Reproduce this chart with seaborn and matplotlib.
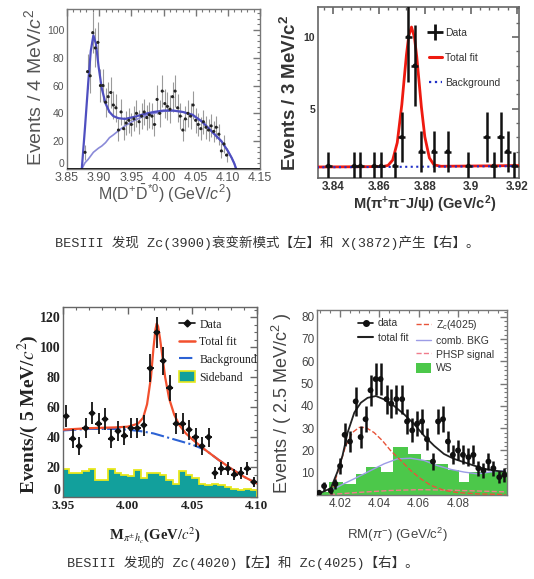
import numpy as np
import matplotlib
matplotlib.use("Agg")
import matplotlib.pyplot as plt
import seaborn as sns
from matplotlib.lines import Line2D
from matplotlib.patches import Patch
from matplotlib.ticker import MultipleLocator, FormatStrFormatter

# ---------------- data ----------------
# Panel 1: M(D+ D*0) Zc(3900)
p1_x = [3.878, 3.882, 3.886, 3.890, 3.894, 3.898, 3.902, 3.906, 3.910, 3.914,
        3.918, 3.922, 3.926, 3.930, 3.934, 3.938, 3.942, 3.946, 3.950, 3.954,
        3.958, 3.962, 3.966, 3.970, 3.974, 3.978, 3.982, 3.986, 3.990, 3.994,
        3.998, 4.002, 4.006, 4.010, 4.014, 4.018, 4.022, 4.026, 4.030, 4.034,
        4.038, 4.042, 4.046, 4.050, 4.054, 4.058, 4.062, 4.066, 4.070, 4.074,
        4.078, 4.082, 4.086, 4.090, 4.094, 4.098]
p1_y = [12, 70, 67, 98, 87, 91, 60, 60, 48, 52,
        55, 46, 44, 28, 41, 29, 33, 35, 32, 36,
        40, 34, 38, 41, 37, 39, 38, 32, 50, 40,
        56, 47, 45, 43, 52, 56, 44, 38, 28, 36,
        40, 38, 46, 35, 32, 29, 34, 30, 28, 31,
        27, 30, 25, 13, 18, 10]
p1_fit_x = [3.873, 3.878, 3.883, 3.887, 3.891, 3.895, 3.899, 3.904, 3.910, 3.916,
            3.922, 3.930, 3.940, 3.955, 3.970, 3.985, 4.000, 4.015, 4.030, 4.045,
            4.060, 4.075, 4.090, 4.100, 4.106, 4.110, 4.113]
p1_fit_y = [0, 30, 62, 85, 96, 90, 74, 58, 47, 41,
            38, 36.5, 36, 37.5, 39.5, 41, 42, 42, 41, 39,
            34, 27, 20, 13, 8, 4, 0]
p1_bkg_y = [0, 4.5, 7, 9.5, 12, 13.5, 15, 16.5, 19, 22.5,
            24.5, 27.5, 31, 35, 38, 40, 41.5, 42, 41, 39,
            34, 27, 20, 13, 8, 4, 0]

# Panel 2: M(pi+ pi- J/psi) X(3872)
p2_x = [3.8380, 3.8493, 3.8520, 3.8580, 3.8610, 3.8670, 3.8700, 3.8728, 3.8757,
        3.8785, 3.8840, 3.8900, 3.8990, 3.9070, 3.9100, 3.9130, 3.9160, 3.9190]
p2_y = [1, 1, 1, 1, 1, 1, 3, 10, 8, 2, 2, 2, 1, 3, 1, 3, 2, 1]
p2_fit_x = [3.833, 3.855, 3.862, 3.864, 3.866, 3.868, 3.870, 3.871, 3.872, 3.873,
            3.8742, 3.8755, 3.8765, 3.8775, 3.8785, 3.880, 3.882, 3.884, 3.887,
            3.895, 3.921]
p2_fit_y = [0.92, 0.94, 0.96, 1.03, 1.40, 2.62, 5.29, 7.05, 8.75, 10.08,
            10.7, 9.97, 8.6, 6.87, 5.12, 3.03, 1.55, 1.07, 0.97,
            0.98, 1.02]
p2_bkg_x = [3.833, 3.860, 3.890, 3.921]
p2_bkg_y = [0.90, 0.92, 0.95, 0.98]

# Panel 3: M(pi h_c) Zc(4020)
p3_x = [3.9525, 3.9575, 3.9625, 3.9675, 3.9725, 3.9775, 3.9825, 3.9875, 3.9925, 3.9975,
        4.0025, 4.0075, 4.0125, 4.0175, 4.0225, 4.0275, 4.0325, 4.0375, 4.0425, 4.0475,
        4.0525, 4.0575, 4.0625, 4.0675, 4.0725, 4.0775, 4.0825, 4.0875, 4.0925, 4.0975]
p3_y = [54, 39, 34, 46, 56, 49, 52, 39, 44, 41,
        46, 46, 48, 86, 110, 91, 73, 49, 49, 45,
        40, 34, 40, 16, 19, 19, 15, 16, 19, 10]
p3_side_edges = [3.950, 3.955, 3.960, 3.965, 3.970, 3.975, 3.980, 3.985, 3.990, 3.995,
                 4.000, 4.005, 4.010, 4.015, 4.020, 4.025, 4.030, 4.035, 4.040, 4.045,
                 4.050, 4.055, 4.060, 4.065, 4.070, 4.075, 4.080, 4.085, 4.090, 4.095,
                 4.100]
p3_side_y = [19, 16, 16, 17.7, 19, 11.4, 11.4, 19, 16, 15,
             14, 18, 13, 16, 16, 14.5, 11.4, 9, 17.5, 14.5,
             13, 9, 8, 9, 8, 7, 5.4, 4.5, 5.4, 4.5]
p3_fit_x = [3.950, 3.970, 3.990, 4.000, 4.008, 4.012, 4.015, 4.018, 4.020, 4.0215,
            4.0225, 4.0235, 4.025, 4.027, 4.029, 4.032, 4.036, 4.040, 4.045, 4.050,
            4.055, 4.060, 4.070, 4.080, 4.090, 4.100]
p3_fit_y = [45, 46, 46.5, 47, 49, 53, 62, 80, 100, 112,
            116, 114, 106, 93, 80, 66, 55, 48, 42.5, 38.5,
            35, 31.5, 25, 19, 13.5, 9]
p3_bkg_x = [3.950, 3.970, 3.990, 4.000, 4.010, 4.020, 4.030, 4.040, 4.050, 4.060,
            4.070, 4.080, 4.090, 4.100]
p3_bkg_y = [44.5, 45.5, 45.5, 45, 44, 42.5, 40, 37.5, 35, 31.5,
            25, 19, 13.5, 9]

# Panel 4: RM(pi-) Zc(4025)
p4_x = [4.0096, 4.0121, 4.0155, 4.0178, 4.0202, 4.0225, 4.0252, 4.0281, 4.0306, 4.0331,
        4.0356, 4.0382, 4.0407, 4.0437, 4.0461, 4.0487, 4.0516, 4.0541, 4.0567, 4.0592,
        4.0617, 4.0642, 4.0672, 4.0698, 4.0723, 4.0748, 4.0773, 4.0799, 4.0824, 4.0852,
        4.0877, 4.0902, 4.0928, 4.0953, 4.0978, 4.1008, 4.1034]
p4_y = [1, 4, 2, 5, 13, 27, 24, 42, 26, 34,
        47, 52, 52, 43, 41, 43, 43, 33, 29, 32,
        33, 25, 15, 33, 34, 24, 18, 20, 18, 17,
        18, 12, 11, 15, 12, 8, 9]
p4_ws_edges = [4.0085, 4.0146, 4.0215, 4.0282, 4.0333, 4.0409, 4.0468, 4.0544, 4.0611,
               4.0678, 4.0746, 4.0804, 4.0855, 4.1047]
p4_ws_y = [1.5, 5.9, 5.1, 9.5, 12.5, 10.3, 21.7, 18.4, 15.5, 14, 11, 5.9, 10.3]
p4_fit_x = [4.0096, 4.0155, 4.0188, 4.0214, 4.0240, 4.0274, 4.0307, 4.0341, 4.0383, 4.0425,
            4.0476, 4.0526, 4.0577, 4.0627, 4.0678, 4.0728, 4.0779, 4.0829, 4.0880, 4.0930,
            4.0980, 4.1039]
p4_fit_y = [0.7, 3, 10.3, 17.6, 28, 37, 41.4, 43.6, 44.4, 42.9,
            39.9, 36.2, 31.8, 26.6, 22.1, 18.4, 16.2, 14.7, 13.2, 11.8,
            11, 10.3]
p4_zc_x = [4.0150, 4.0170, 4.0205, 4.0230, 4.0264, 4.0298, 4.0332, 4.0374, 4.0416, 4.0458,
           4.0509, 4.0559, 4.0610, 4.0660, 4.0728, 4.0795, 4.0900, 4.1040]
p4_zc_y = [0.5, 4.4, 14.7, 22, 28, 30.3, 30.3, 28, 24.4, 19.9,
           15.5, 11, 7.3, 4.4, 2.1, 1.1, 0.5, 0.2]
p4_bkg_x = [4.0155, 4.0222, 4.0290, 4.0357, 4.0425, 4.0492, 4.0559, 4.0627, 4.0694, 4.0762,
            4.0829, 4.0896, 4.0963, 4.1039]
p4_bkg_y = [2, 5.1, 8, 11, 14, 16.2, 16.5, 15.5, 13.2, 11.5,
            10.3, 9.5, 10.3, 11]
p4_phsp_x = [4.0150, 4.0300, 4.0450, 4.0600, 4.0750, 4.0900, 4.1040]
p4_phsp_y = [0.2, 1.2, 2.0, 2.4, 2.2, 1.8, 1.4]

captions = ["BESIII 发现 Zc(3900)衰变新模式【左】和 X(3872)产生【右】。",
            "BESIII 发现的 Zc(4020)【左】和 Zc(4025)【右】。"]

# ---------------- style ----------------
sns.set_theme(style="white")
plt.rcParams['font.family'] = ['Liberation Sans', 'DejaVu Sans']
plt.rcParams['mathtext.fontset'] = 'custom'
plt.rcParams['mathtext.rm'] = 'Liberation Sans'
plt.rcParams['mathtext.it'] = 'Liberation Sans:italic'
plt.rcParams['mathtext.bf'] = 'Liberation Sans:bold'

W, H = 534, 579
fig = plt.figure(figsize=(W / 100, H / 100), dpi=100)


def add_ax(l, r, t, b):
    return fig.add_axes([l / W, 1 - b / H, (r - l) / W, (b - t) / H])


def root_style(ax, col, lw=1.0, lab_col='#333333', xsize=8.5, ysize=8.5, **fk):
    for s in ax.spines.values():
        s.set_color(col)
        s.set_linewidth(lw)
    ax.tick_params(which='both', direction='in', top=True, right=True, color=col,
                   labelcolor=lab_col, pad=2)
    ax.tick_params(axis='x', labelsize=xsize)
    ax.tick_params(axis='y', labelsize=ysize)
    ax.tick_params(which='major', length=5, width=lw)
    ax.tick_params(which='minor', length=2.5, width=lw * 0.8)
    for lbl in ax.get_xticklabels() + ax.get_yticklabels():
        lbl.set(**fk)


def ftext(x, y, s, **kw):
    fig.text(x / W, 1 - y / H, s, ha='center', va='center', **kw)


# ---------------- panel 1 ----------------
ax1 = add_ax(67, 260, 9, 169)
p1_err = 1.5 * np.sqrt(np.array(p1_y, float))
ax1.errorbar(p1_x, p1_y, yerr=p1_err, xerr=0.002, fmt='none', ecolor='#9a9a9a',
             elinewidth=0.8, zorder=2)
sns.scatterplot(x=p1_x, y=p1_y, ax=ax1, color='#222222', s=5, edgecolor='none', zorder=4)
sns.lineplot(x=p1_fit_x, y=p1_bkg_y, ax=ax1, color='#8a8ad8', lw=1.2, zorder=3)
sns.lineplot(x=p1_fit_x, y=p1_fit_y, ax=ax1, color='#4f4fc0', lw=1.6, zorder=3)
ax1.axhline(0, color='#111111', lw=2.0, zorder=5)
ax1.set_xlim(3.85, 4.15)
ax1.set_ylim(0, 115)
ax1.set_xticks([3.85, 3.90, 3.95, 4.00, 4.05, 4.10, 4.15])
ax1.xaxis.set_major_formatter(FormatStrFormatter('%.2f'))
ax1.set_yticks([0, 20, 40, 60, 80, 100])
ax1.xaxis.set_minor_locator(MultipleLocator(0.01))
ax1.yaxis.set_minor_locator(MultipleLocator(4))
root_style(ax1, '#777777', lab_col='#555555', xsize=9, ysize=7.5)
ax1.get_yticklabels()[0].set_va('bottom')
ftext(34, 87, r"Events / 4 MeV/$c^{2}$", rotation=90, fontsize=14, color='#555555')
ftext(165, 194, r"M(D$^{+}\bar{\mathrm{D}}^{*0}$) (GeV/$c^{2}$)", fontsize=11.5, color='#555555')

# ---------------- panel 2 ----------------
ax2 = add_ax(318, 519, 7, 178)
sns.lineplot(x=p2_fit_x, y=p2_fit_y, ax=ax2, color='#ee1a10', lw=2.0, zorder=3)
sns.lineplot(x=p2_bkg_x, y=p2_bkg_y, ax=ax2, color='#2030c8', lw=1.5, linestyle=':', zorder=3)
ax2.errorbar(p2_x, p2_y, yerr=np.sqrt(np.array(p2_y, float)), xerr=0.0015, fmt='none',
             ecolor='#111111', elinewidth=1.8, zorder=4)
sns.scatterplot(x=p2_x, y=p2_y, ax=ax2, color='#111111', s=10, edgecolor='none', zorder=5)
ax2.set_xlim(3.8335, 3.921)
ax2.set_ylim(0.15, 12.1)
ax2.set_xticks([3.84, 3.86, 3.88, 3.90, 3.92])
ax2.set_xticklabels(['3.84', '3.86', '3.88', '3.9', '3.92'])
ax2.set_yticks([5, 10])
ax2.xaxis.set_minor_locator(MultipleLocator(0.004))
ax2.yaxis.set_minor_locator(MultipleLocator(1))
root_style(ax2, '#666666', lw=1.2, lab_col='#333333', xsize=8.5, ysize=7.5, fontweight='bold')
ftext(290, 93, r"Events / 3 MeV/c$^{\mathbf{2}}$", rotation=90, fontsize=13.5, color='#333333',
      fontweight='bold')
ftext(425, 204, r"M($\mathbf{\pi^{+}\pi^{-}}$J/$\mathbf{\psi}$) (GeV/c$^{\mathbf{2}}$)",
      fontsize=10.5, color='#333333', fontweight='bold')
h2 = [Line2D([0], [0], color='#111111', marker='+', ms=11, mew=2, ls='none'),
      Line2D([0], [0], color='#ee1a10', lw=2.2),
      Line2D([0], [0], color='#2030c8', lw=1.6, ls=':')]
leg2 = ax2.legend(h2, ['Data', 'Total fit', 'Background'], loc='upper left',
                  bbox_to_anchor=(0.55, 0.88), frameon=False, fontsize=7.5,
                  labelspacing=1.45, handlelength=1.3, handletextpad=0.3, borderpad=0,
                  borderaxespad=0)
for t in leg2.get_texts():
    t.set_color('#333333')

# ---------------- panel 3 ----------------
serif = 'Liberation Serif'
ax3 = add_ax(63, 257, 307, 497)
ax3.stairs(p3_side_y, p3_side_edges, fill=True, color='#12a09c', zorder=1)
ax3.stairs(p3_side_y, p3_side_edges, color='#e8e81c', lw=1.3, zorder=2)
sns.lineplot(x=p3_bkg_x, y=p3_bkg_y, ax=ax3, color='#2c62d4', lw=1.5, linestyle='-.', zorder=3)
sns.lineplot(x=p3_fit_x, y=p3_fit_y, ax=ax3, color='#f2502e', lw=1.6, zorder=3)
ax3.errorbar(p3_x, p3_y, yerr=np.sqrt(np.array(p3_y, float)), xerr=0.0025, fmt='none',
             ecolor='#111111', elinewidth=1.3, zorder=4)
sns.scatterplot(x=p3_x, y=p3_y, ax=ax3, color='#111111', s=14, marker='D', edgecolor='none',
                zorder=5)
ax3.set_xlim(3.95, 4.10)
ax3.set_ylim(0, 127)
ax3.set_xticks([3.95, 4.00, 4.05, 4.10])
ax3.xaxis.set_major_formatter(FormatStrFormatter('%.2f'))
ax3.set_yticks([0, 20, 40, 60, 80, 100, 120])
ax3.xaxis.set_minor_locator(MultipleLocator(0.01))
ax3.yaxis.set_minor_locator(MultipleLocator(5))
root_style(ax3, '#666666', lw=1.0, lab_col='#222222', xsize=9.5, ysize=10, family=serif,
           fontweight='bold')
ax3.get_yticklabels()[0].set_va('bottom')
ftext(28, 414, r"Events/( 5 MeV/$c^{2}$)", rotation=90, fontsize=14, color='#222222',
      family=serif, fontweight='bold', math_fontfamily='stix')
ftext(155, 535, r"M$_{\pi^{\pm}h_c}$(GeV/$c^{2}$)", fontsize=10.5, color='#222222',
      family=serif, fontweight='bold', math_fontfamily='stix')
h3 = [Line2D([0], [0], color='#111111', marker='D', ms=3.5, lw=1.2),
      Line2D([0], [0], color='#f2502e', lw=1.8),
      Line2D([0], [0], color='#2c62d4', lw=1.5, ls='-.'),
      Patch(facecolor='#12a09c', edgecolor='#e8e81c', lw=1.2)]
leg3 = ax3.legend(h3, ['Data', 'Total fit', 'Background', 'Sideband'], loc='upper left',
                  bbox_to_anchor=(0.60, 0.94), frameon=False,
                  prop={'family': serif, 'size': 8.5}, labelspacing=0.45, handlelength=1.3,
                  handleheight=1.0, handletextpad=0.4, borderpad=0, borderaxespad=0)
for t in leg3.get_texts():
    t.set_color('#222222')

# ---------------- panel 4 ----------------
ax4 = add_ax(317, 507, 310, 495)
ax4.stairs(p4_ws_y, p4_ws_edges, fill=True, color='#4cc84a', zorder=1)
sns.lineplot(x=p4_phsp_x, y=p4_phsp_y, ax=ax4, color='#f07c8c', lw=1.0, linestyle='--', zorder=2)
sns.lineplot(x=p4_bkg_x, y=p4_bkg_y, ax=ax4, color='#9c9ce6', lw=1.0, zorder=3)
sns.lineplot(x=p4_zc_x, y=p4_zc_y, ax=ax4, color='#e8543a', lw=1.0, linestyle='--', zorder=3)
sns.lineplot(x=p4_fit_x, y=p4_fit_y, ax=ax4, color='#222222', lw=1.3, zorder=3)
ax4.errorbar(p4_x, p4_y, yerr=np.sqrt(np.array(p4_y, float)), fmt='none',
             ecolor='#111111', elinewidth=1.8, zorder=4)
sns.scatterplot(x=p4_x, y=p4_y, ax=ax4, color='#111111', s=18, edgecolor='none', zorder=5)
ax4.set_xlim(4.0085, 4.1047)
ax4.set_ylim(0, 83)
ax4.set_xticks([4.02, 4.04, 4.06, 4.08])
ax4.xaxis.set_major_formatter(FormatStrFormatter('%.2f'))
ax4.set_yticks([10, 20, 30, 40, 50, 60, 70, 80])
ax4.xaxis.set_minor_locator(MultipleLocator(0.005))
ax4.yaxis.set_minor_locator(MultipleLocator(2))
root_style(ax4, '#777777', lw=1.0, lab_col='#444444', xsize=8.5, ysize=8.5)
ftext(282, 403, r"Events / ( 2.5 MeV/c$^{2}$ )", rotation=90, fontsize=13, color='#444444')
ftext(397, 535, r"RM($\pi^{-}$) (GeV/c$^{2}$)", fontsize=9.5, color='#444444')
h4a = [Line2D([0], [0], color='#111111', marker='o', ms=4, lw=1.2),
       Line2D([0], [0], color='#222222', lw=1.5)]
leg4a = ax4.legend(h4a, ['data', 'total fit'], loc='upper left', bbox_to_anchor=(0.215, 0.955),
                   frameon=False, fontsize=7.5, labelspacing=0.45, handlelength=1.5,
                   handletextpad=0.4, borderpad=0, borderaxespad=0)
ax4.add_artist(leg4a)
h4b = [Line2D([0], [0], color='#e8543a', lw=1.0, ls='--'),
       Line2D([0], [0], color='#9c9ce6', lw=1.0),
       Line2D([0], [0], color='#f07c8c', lw=1.0, ls='--'),
       Patch(facecolor='#4cc84a', edgecolor='none')]
leg4b = ax4.legend(h4b, [r"Z$_c$(4025)", 'comb. BKG', 'PHSP signal', 'WS'], loc='upper left',
                   bbox_to_anchor=(0.52, 0.955), frameon=False, fontsize=7.5,
                   labelspacing=0.3, handlelength=1.5, handleheight=1.1,
                   handletextpad=0.4, borderpad=0, borderaxespad=0)
for lg in (leg4a, leg4b):
    for t in lg.get_texts():
        t.set_color('#333333')

# ---------------- captions ----------------
cap_font = ['Liberation Mono', 'Noto Sans CJK SC', 'DejaVu Sans']
fig.text(55 / W, 1 - 243 / H, captions[0], ha='left', va='center', fontsize=9.7,
         family=cap_font, color='#333333')
fig.text(67 / W, 1 - 563 / H, captions[1], ha='left', va='center', fontsize=9.7,
         family=cap_font, color='#333333')

fig.savefig('out.png', dpi=100)
